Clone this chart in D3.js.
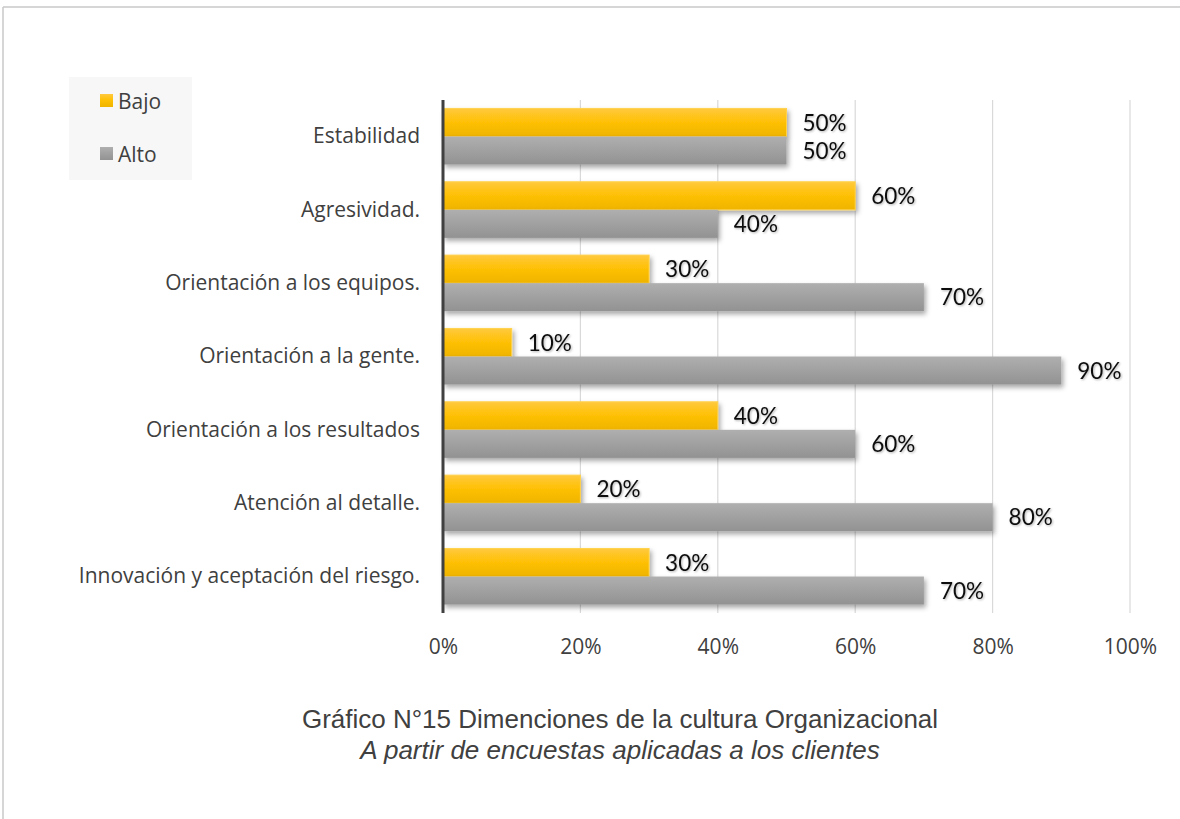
<!DOCTYPE html>
<html>
<head>
<meta charset="utf-8">
<script src="https://cdn.jsdelivr.net/npm/d3@7"></script>
<style>
  html, body { margin: 0; padding: 0; background: #fff; }
  svg { display: block; }
</style>
</head>
<body>
<svg id="chart" width="1180" height="819"></svg>
<script>
// Dimensiones de la cultura organizacional
const categories = [
  "Estabilidad",
  "Agresividad.",
  "Orientación a los equipos.",
  "Orientación a la gente.",
  "Orientación a los resultados",
  "Atención al detalle.",
  "Innovación y aceptación del riesgo."
];
const bajo = [0.5, 0.6, 0.3, 0.1, 0.4, 0.2, 0.3];
const alto = [0.5, 0.4, 0.7, 0.9, 0.6, 0.8, 0.7];
const seriesNames = ["Bajo", "Alto"];
const xTicks = [0, 0.2, 0.4, 0.6, 0.8, 1.0];

const svg = d3.select("#chart");
const defs = svg.append("defs");

// bar gradients
const gGold = defs.append("linearGradient").attr("id", "gold").attr("x1", 0).attr("x2", 0).attr("y1", 0).attr("y2", 1);
gGold.append("stop").attr("offset", "0%").attr("stop-color", "#ffc93f");
gGold.append("stop").attr("offset", "45%").attr("stop-color", "#ffc107");
gGold.append("stop").attr("offset", "100%").attr("stop-color", "#efb400");
const gGray = defs.append("linearGradient").attr("id", "gray").attr("x1", 0).attr("x2", 0).attr("y1", 0).attr("y2", 1);
gGray.append("stop").attr("offset", "0%").attr("stop-color", "#afafaf");
gGray.append("stop").attr("offset", "100%").attr("stop-color", "#929292");

const shadow = defs.append("filter").attr("id", "shadow").attr("x", "-5%").attr("y", "-30%").attr("width", "115%").attr("height", "180%");
shadow.append("feDropShadow").attr("dx", 2).attr("dy", 3).attr("stdDeviation", 2.5).attr("flood-color", "#000").attr("flood-opacity", 0.35);

const textShadow = defs.append("filter").attr("id", "tshadow").attr("x", "-10%").attr("y", "-20%").attr("width", "130%").attr("height", "150%");
textShadow.append("feDropShadow").attr("dx", 1).attr("dy", 1).attr("stdDeviation", 0.8).attr("flood-color", "#000").attr("flood-opacity", 0.3);

// frame
svg.append("line").attr("x1", 3).attr("x2", 1180).attr("y1", 7).attr("y2", 7).attr("stroke", "#c8c8c8").attr("stroke-width", 1.5);
svg.append("line").attr("x1", 3).attr("x2", 3).attr("y1", 7).attr("y2", 819).attr("stroke", "#c8c8c8").attr("stroke-width", 1.5);

const plot = { left: 443, right: 1130, top: 100, bottom: 613 };

const x = d3.scaleLinear().domain([0, 1]).range([plot.left, plot.right]);
const y = d3.scaleBand().domain(categories).range([plot.top, plot.bottom]).paddingInner(0.235).paddingOuter(0.115);
const sub = d3.scaleBand().domain(seriesNames).range([0, y.bandwidth()]);

// gridlines
svg.append("g").selectAll("line").data(xTicks.slice(1)).join("line")
  .attr("x1", d => x(d)).attr("x2", d => x(d))
  .attr("y1", plot.top).attr("y2", plot.bottom)
  .attr("stroke", "#d9d9d9").attr("stroke-width", 1.2);

// x axis tick labels
const xAxis = d3.axisBottom(x).tickValues(xTicks).tickFormat(d3.format(".0%")).tickSize(0).tickPadding(0);
const xg = svg.append("g").attr("transform", `translate(0,${plot.bottom + 41})`).call(xAxis);
xg.select(".domain").remove();
xg.selectAll("text").attr("font-family", "'Open Sans', sans-serif").attr("font-size", 21).attr("fill", "#404040").attr("dy", 0);

// bars
const rows = categories.map((c, i) => ({ c, vals: [bajo[i], alto[i]] }));
const groups = svg.append("g").selectAll("g").data(rows).join("g")
  .attr("transform", d => `translate(0,${y(d.c)})`);

groups.selectAll("rect").data(d => d.vals.map((v, k) => ({ v, s: seriesNames[k] }))).join("rect")
  .attr("x", x(0))
  .attr("y", d => sub(d.s))
  .attr("width", d => x(d.v) - x(0))
  .attr("height", sub.bandwidth())
  .attr("fill", d => d.s === "Bajo" ? "url(#gold)" : "url(#gray)")
  .attr("stroke", d => d.s === "Bajo" ? "#ffd24d" : "none")
  .attr("stroke-width", 1)
  .attr("filter", "url(#shadow)");

groups.selectAll("text.val").data(d => d.vals.map((v, k) => ({ v, s: seriesNames[k] }))).join("text")
  .attr("class", "val")
  .attr("x", d => x(d.v) + 16)
  .attr("y", d => sub(d.s) + sub.bandwidth() / 2)
  .attr("dy", "0.36em")
  .attr("font-family", "Lato, 'Open Sans', sans-serif")
  .attr("font-size", 22.5)
  .attr("fill", "#111")
  .attr("filter", "url(#tshadow)")
  .text(d => d3.format(".0%")(d.v));

// y axis
const yAxis = d3.axisLeft(y).tickSize(0).tickPadding(23);
const yg = svg.append("g").attr("transform", `translate(${plot.left},0)`).call(yAxis);
yg.select(".domain").remove();
yg.selectAll("text").attr("font-family", "'Open Sans', sans-serif").attr("font-size", 21).attr("fill", "#404040");
svg.append("line").attr("x1", plot.left).attr("x2", plot.left).attr("y1", plot.top).attr("y2", plot.bottom)
  .attr("stroke", "#404040").attr("stroke-width", 3);

// legend
const lg = svg.append("g");
lg.append("rect").attr("x", 69).attr("y", 77).attr("width", 123).attr("height", 103).attr("fill", "#f7f7f7");
const legendItems = [{ n: "Bajo", f: "url(#gold)", y: 101 }, { n: "Alto", f: "url(#gray)", y: 154 }];
legendItems.forEach(it => {
  lg.append("rect").attr("x", 100).attr("y", it.y - 7).attr("width", 13).attr("height", 13).attr("fill", it.f);
  lg.append("text").attr("x", 118).attr("y", it.y).attr("dy", "0.36em")
    .attr("font-family", "'Open Sans', sans-serif").attr("font-size", 21).attr("fill", "#404040").text(it.n);
});

// caption
svg.append("text").attr("x", 620).attr("y", 728).attr("text-anchor", "middle")
  .attr("font-family", "'Liberation Sans', Arial, sans-serif").attr("font-size", 26).attr("fill", "#404040")
  .text("Gráfico N°15 Dimenciones de la cultura Organizacional");
svg.append("text").attr("x", 620).attr("y", 759).attr("text-anchor", "middle")
  .attr("font-family", "'Liberation Sans', Arial, sans-serif").attr("font-size", 26).attr("font-style", "italic").attr("fill", "#404040")
  .text("A partir de encuestas aplicadas a los clientes");
</script>
</body>
</html>
